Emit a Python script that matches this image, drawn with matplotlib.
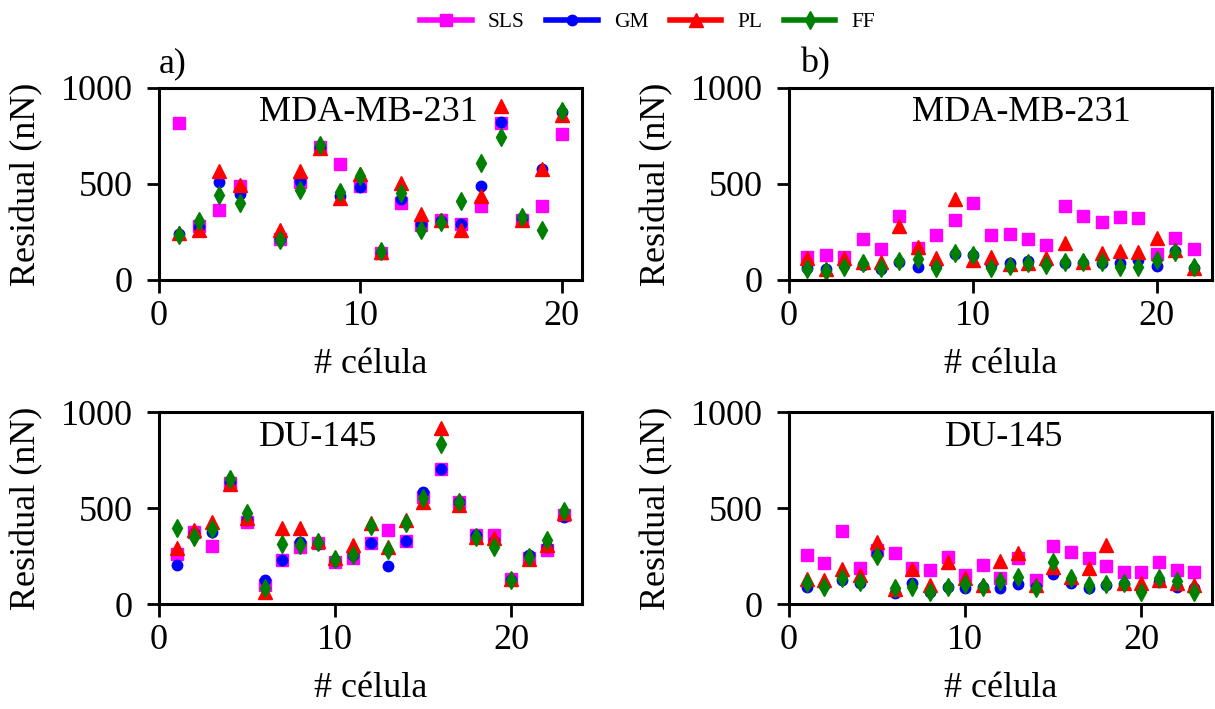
import numpy as np
import matplotlib
matplotlib.use('Agg')
from matplotlib import pyplot as plt
from matplotlib.lines import Line2D

plt.rcParams['font.family'] = ['Liberation Serif', 'DejaVu Serif']
plt.rcParams['font.size'] = 26

nan = np.nan

# a) MDA-MB-231 (cell 5 missing)
mda_a_sls = [817, 280, 366, 492, nan, 215, 510, 695, 605, 490, 143, 401, 288, 310, 293, 384, 820, 314, 384, 759]
mda_a_gm = [240, 278, 510, 450, nan, 215, 515, 694, 436, 483, 140, 420, 293, 305, 293, 489, 824, 323, 579, 876]
mda_a_pl = [243, 262, 567, 497, nan, 258, 567, 689, 428, 550, 148, 503, 346, 314, 262, 436, 907, 314, 576, 859]
mda_a_ff = [236, 305, 445, 401, nan, 209, 468, 701, 457, 541, 153, 454, 258, 300, 410, 607, 747, 328, 262, 881]

# b) MDA-MB-231
mda_b_sls = [122, 131, 122, 213, 161, 335, 166, 236, 314, 401, 236, 241, 215, 183, 384, 335, 300, 328, 323, 136, 218, 162]
mda_b_gm = [61, 58, 80, 77, 56, 96, 70, 80, 136, 131, 80, 87, 99, 90, 91, 91, 91, 87, 105, 73, 150, 60]
mda_b_pl = [117, 59, 117, 96, 96, 283, 174, 112, 422, 105, 122, 84, 87, 113, 192, 96, 140, 153, 148, 218, 157, 61]
mda_b_ff = [56, 49, 70, 91, 61, 99, 108, 61, 140, 131, 61, 73, 91, 79, 96, 93, 96, 66, 66, 105, 148, 66]

# a) DU-145
du_a_sls = [260, 375, 305, 630, 427, 100, 231, 300, 318, 222, 240, 318, 387, 330, 560, 703, 534, 361, 361, 132, 243, 283, 465]
du_a_gm = [205, 370, 378, 638, 440, 127, 231, 326, 315, 228, 257, 318, 201, 330, 583, 703, 534, 361, 330, 127, 255, 300, 456]
du_a_pl = [292, 387, 427, 625, 451, 63, 399, 396, 330, 243, 309, 422, 300, 439, 531, 920, 517, 352, 344, 132, 236, 309, 474]
du_a_ff = [399, 352, 392, 653, 474, 87, 313, 309, 323, 236, 257, 409, 283, 422, 555, 833, 534, 352, 300, 127, 248, 335, 486]

# b) DU-145
du_b_sls = [257, 214, 382, 187, 283, 266, 191, 179, 248, 153, 205, 139, 240, 127, 305, 271, 243, 201, 170, 170, 222, 179, 170]
du_b_gm = [92, 100, 125, 110, 260, 57, 109, 63, 92, 87, 92, 83, 104, 90, 156, 109, 87, 100, 105, 80, 118, 92, 83]
du_b_pl = [132, 127, 184, 153, 326, 82, 184, 100, 219, 135, 100, 225, 266, 100, 196, 144, 187, 309, 109, 109, 127, 109, 100]
du_b_ff = [109, 92, 135, 118, 253, 87, 92, 66, 92, 104, 92, 121, 144, 87, 219, 135, 100, 104, 113, 63, 139, 121, 63]

labels = ['SLS', 'GM', 'PL', 'FF']
colors = ['#ff00ff', '#0000ff', '#ff0000', '#008000']
markers = ['s', 'o', '^', 'd']
msizes = [8, 7.5, 10, 9]

panels = [
    ([0.1309, 0.6051, 0.3481, 0.2708], 'MDA-MB-231', 'a)', [mda_a_sls, mda_a_gm, mda_a_pl, mda_a_ff], 0.495),
    ([0.6494, 0.6051, 0.3481, 0.2708], 'MDA-MB-231', 'b)', [mda_b_sls, mda_b_gm, mda_b_pl, mda_b_ff], 0.55),
    ([0.1309, 0.1477, 0.3481, 0.2708], 'DU-145', None, [du_a_sls, du_a_gm, du_a_pl, du_a_ff], 0.375),
    ([0.6494, 0.1477, 0.3481, 0.2708], 'DU-145', None, [du_b_sls, du_b_gm, du_b_pl, du_b_ff], 0.508),
]

fig = plt.figure(figsize=(12.15, 7.09), dpi=100)

for rect, name, tag, series, name_x in panels:
    ax = fig.add_axes(rect)
    n = len(series[0])
    cells = np.arange(1, n + 1)
    for vals, lab, c, mk, ms in zip(series, labels, colors, markers, msizes):
        ax.plot(cells, vals, linestyle='none', marker=mk, color=c, markersize=ms)
    ax.set_xlim(0, n + 1)
    ax.set_ylim(0, 1000)
    ax.set_xticks([0, 10, 20])
    ax.set_yticks([0, 500, 1000])
    for s in ax.spines.values():
        s.set_linewidth(2.2)
    ax.tick_params(axis='both', direction='out', length=9, width=2)
    ax.tick_params(axis='x', pad=5.5)
    ax.tick_params(axis='y', pad=10)
    ax.set_xlabel('# célula')
    ax.set_ylabel('Residual (nN)')
    ax.xaxis.set_label_coords(0.5, -0.355)
    ax.yaxis.set_label_coords(-0.274, 0.5)
    ax.text(name_x, 0.87, name, transform=ax.transAxes, ha='center', va='center')
    if tag is not None:
        off = 0.0 if tag == 'a)' else 0.026
        ax.text(off, 1.04, tag, transform=ax.transAxes, ha='left', va='bottom')

handles = [Line2D([], [], color=c, marker=mk, markersize=ms, linewidth=4)
           for c, mk, ms in zip(colors, markers, msizes)]
fig.legend(handles, labels, loc='center', bbox_to_anchor=(0.533, 1 - 22 / 709), ncol=4,
           frameon=False, fontsize=15.5, handlelength=2.4, handletextpad=0.74, columnspacing=1.0)

fig.savefig('out.png', dpi=100)
